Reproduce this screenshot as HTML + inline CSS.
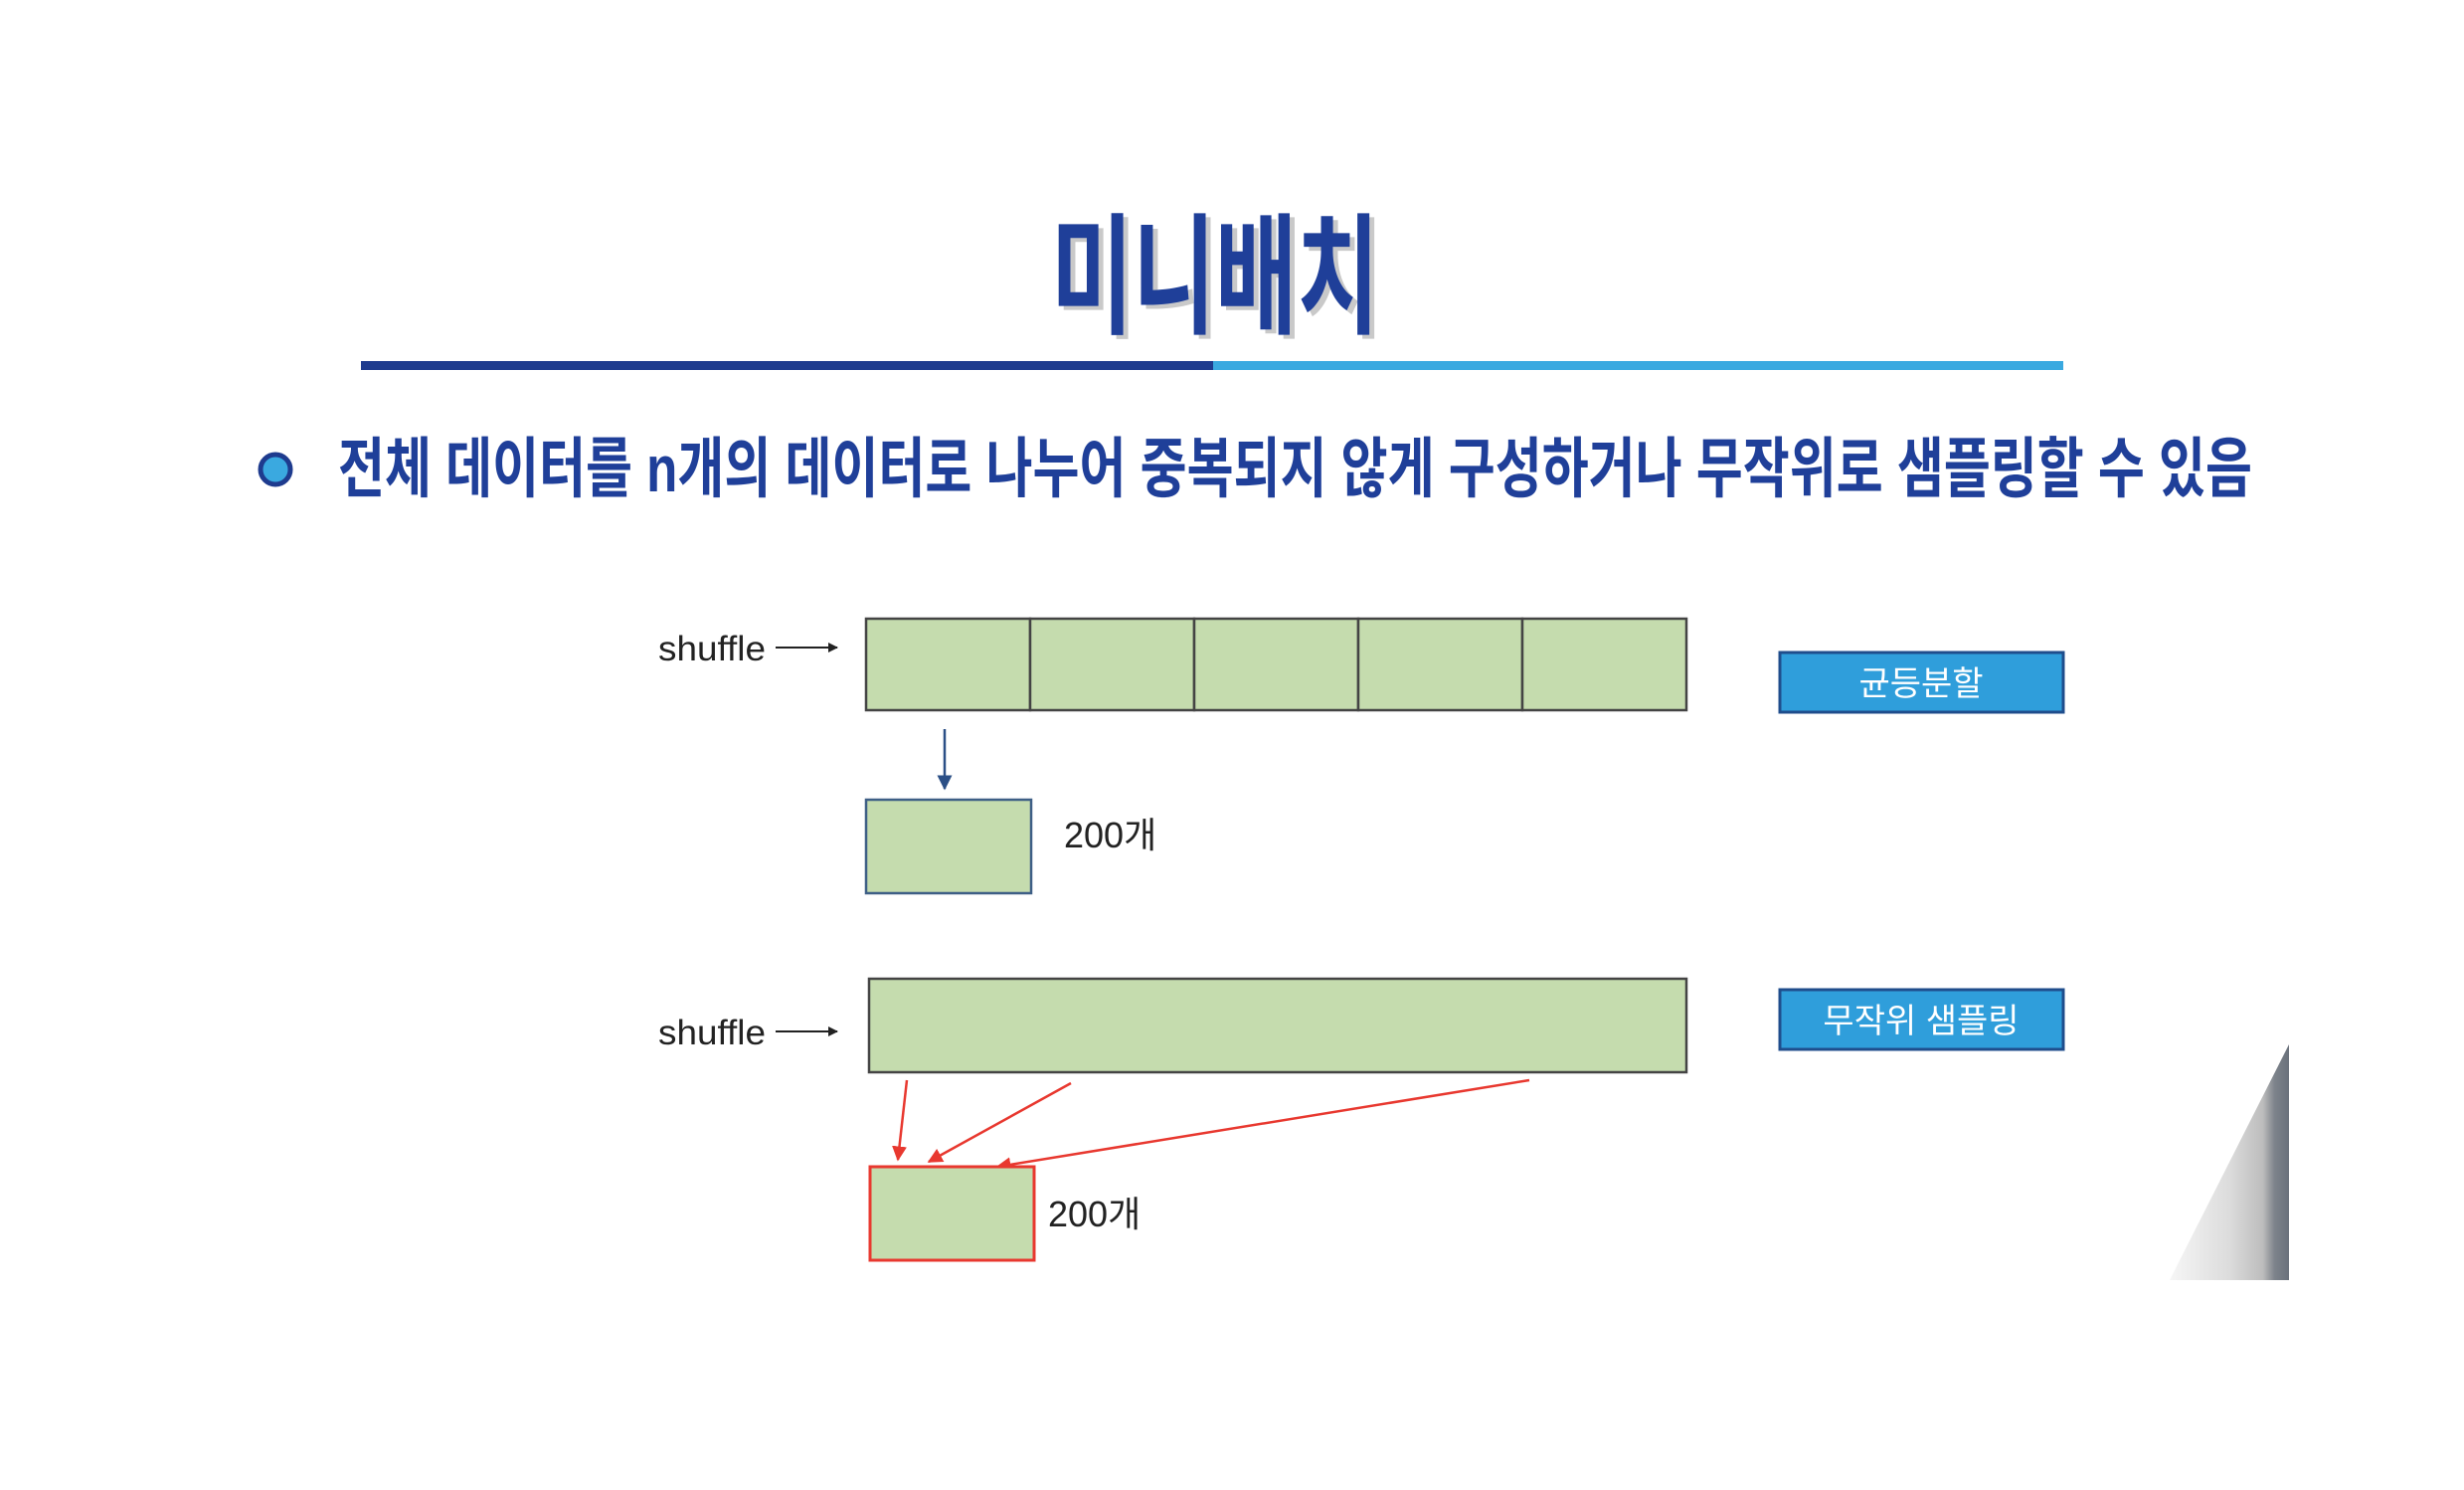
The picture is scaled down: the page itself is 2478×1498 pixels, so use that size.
<!DOCTYPE html>
<html><head><meta charset="utf-8">
<style>
html,body{margin:0;padding:0;background:#fff;}
svg{display:block;}
.kr{font-family:"Liberation Sans","Noto Sans CJK KR","NanumGothic",sans-serif;}
</style></head>
<body>
<svg width="2478" height="1498" viewBox="0 0 2478 1498" xmlns="http://www.w3.org/2000/svg">
<defs>
<marker id="ab" viewBox="0 0 10 10" refX="9" refY="5" markerWidth="6" markerHeight="6" orient="auto"><path d="M0,0 L10,5 L0,10 z" fill="#2b4f86"/></marker>
<marker id="ak" viewBox="0 0 10 10" refX="9" refY="5" markerWidth="5" markerHeight="5" orient="auto"><path d="M0,0 L10,5 L0,10 z" fill="#222"/></marker>
<marker id="ar" viewBox="0 0 10 10" refX="9" refY="5" markerWidth="6" markerHeight="6" orient="auto"><path d="M0,0 L10,5 L0,10 z" fill="#e8382f"/></marker>
<linearGradient id="curl" x1="0" y1="0" x2="1" y2="0">
<stop offset="0" stop-color="#f6f6f6"/><stop offset="0.5" stop-color="#dcdcdc"/><stop offset="0.78" stop-color="#bdbdbd"/><stop offset="0.88" stop-color="#7d838b"/><stop offset="1" stop-color="#6a717b"/></linearGradient>
</defs>

<g>
<text class="kr" x="1227" y="329" text-anchor="middle" font-size="132" font-weight="bold" fill="#c9c9c9" textLength="330" lengthAdjust="spacingAndGlyphs">미니배치</text>
<text class="kr" x="1222" y="325" text-anchor="middle" font-size="132" font-weight="bold" fill="#1f3f99" textLength="330" lengthAdjust="spacingAndGlyphs">미니배치</text>
</g>
<rect x="363" y="363" width="857" height="9" fill="#1e3b8e"/>
<rect x="1220" y="363" width="855" height="9" fill="#3aa9e0"/>

<circle cx="277" cy="472" r="15" fill="#3aa9e0" stroke="#1e3b8e" stroke-width="5"/>
<text class="kr" x="340" y="494" font-size="66" font-weight="bold" fill="#1f3f99" textLength="1925" lengthAdjust="spacingAndGlyphs">전체 데이터를 n개의 데이터로 나누어 중복되지 않게 구성하거나 무작위로 샘플링할 수 있음</text>

<text class="kr" x="662" y="664" font-size="35" fill="#222" textLength="108" lengthAdjust="spacingAndGlyphs">shuffle</text>
<line x1="780" y1="651" x2="842" y2="651" stroke="#222" stroke-width="2" marker-end="url(#ak)"/>
<g fill="#c5dcae" stroke="#444" stroke-width="2.5">
<rect x="871" y="622" width="165" height="92"/>
<rect x="1036" y="622" width="165" height="92"/>
<rect x="1201" y="622" width="165" height="92"/>
<rect x="1366" y="622" width="165" height="92"/>
<rect x="1531" y="622" width="165" height="92"/>
</g>
<rect x="1790" y="656" width="285" height="60" fill="#2f9edb" stroke="#1f4d8c" stroke-width="3"/>
<text class="kr" x="1932" y="699" text-anchor="middle" font-size="34" fill="#fff">균등분할</text>
<line x1="950" y1="733" x2="950" y2="793" stroke="#2b4f86" stroke-width="2.5" marker-end="url(#ab)"/>
<rect x="871" y="804" width="166" height="94" fill="#c5dcae" stroke="#3e5f86" stroke-width="2.5"/>
<text class="kr" x="1070" y="852" font-size="36" fill="#222">200개</text>

<text class="kr" x="662" y="1050" font-size="35" fill="#222" textLength="108" lengthAdjust="spacingAndGlyphs">shuffle</text>
<line x1="780" y1="1037" x2="842" y2="1037" stroke="#222" stroke-width="2" marker-end="url(#ak)"/>
<rect x="874" y="984" width="822" height="94" fill="#c5dcae" stroke="#444" stroke-width="2.5"/>
<rect x="1790" y="995" width="285" height="60" fill="#2f9edb" stroke="#1f4d8c" stroke-width="3"/>
<text class="kr" x="1932" y="1038" text-anchor="middle" font-size="34" fill="#fff">무작위 샘플링</text>
<g stroke="#e8382f" stroke-width="2.5">
<line x1="912" y1="1086" x2="903" y2="1166" marker-end="url(#ar)"/>
<line x1="1077" y1="1089" x2="934" y2="1168" marker-end="url(#ar)"/>
<line x1="1538" y1="1086" x2="1003" y2="1173" marker-end="url(#ar)"/>
</g>
<rect x="875" y="1173" width="165" height="94" fill="#c5dcae" stroke="#e8382f" stroke-width="3"/>
<text class="kr" x="1054" y="1233" font-size="36" fill="#222">200개</text>

<polygon points="2302,1050 2302,1287 2182,1287" fill="url(#curl)"/>
</svg>
</body></html>
